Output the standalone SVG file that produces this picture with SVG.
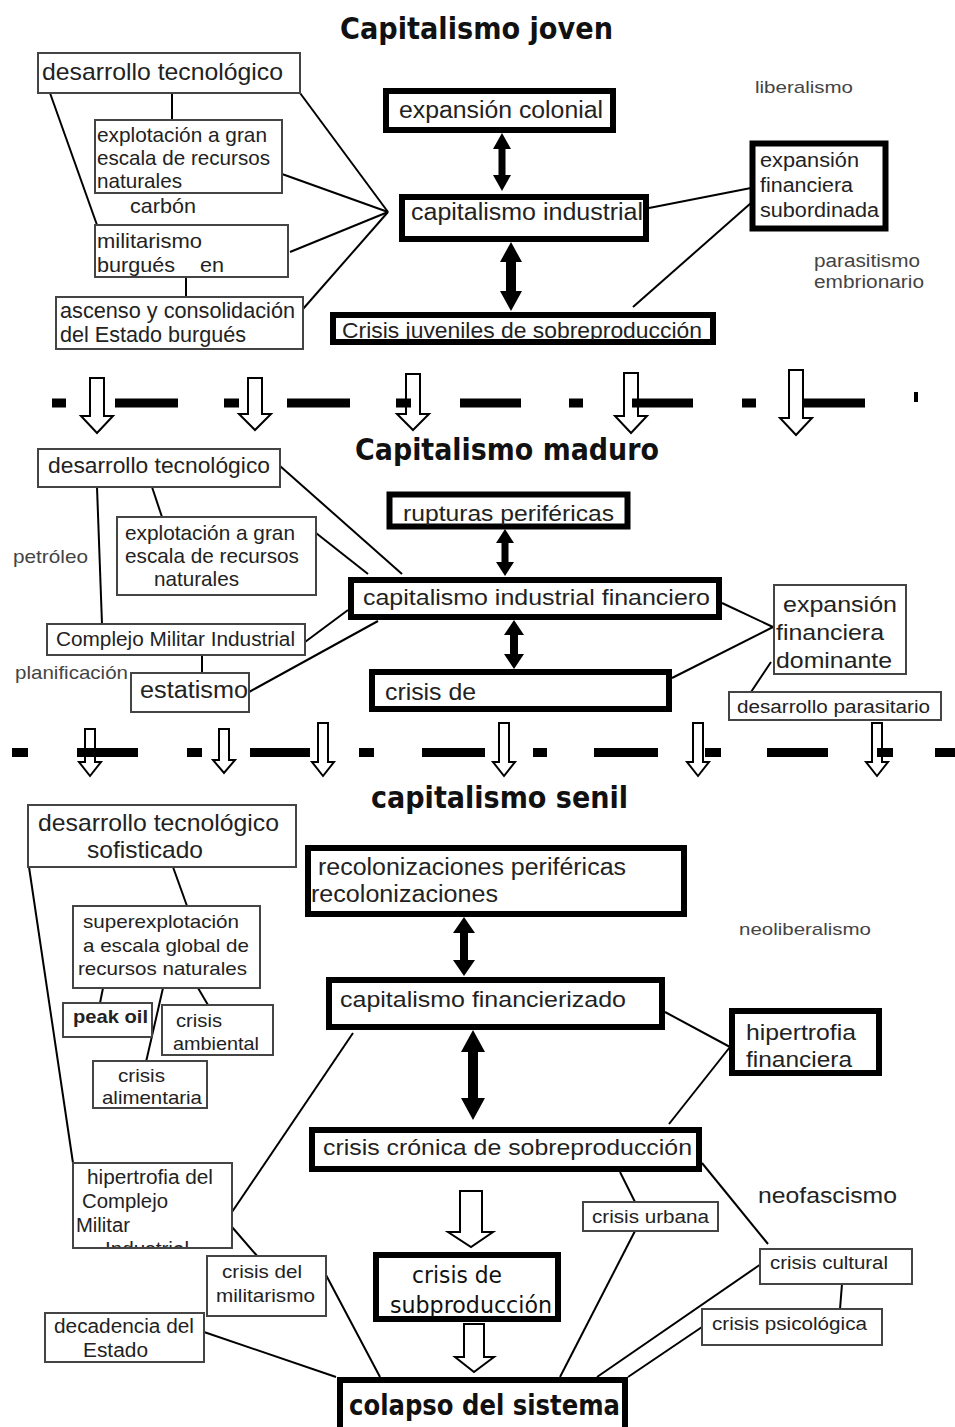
<svg xmlns="http://www.w3.org/2000/svg" width="955" height="1427" viewBox="0 0 955 1427">
<style>
.t{font-family:"Liberation Sans",Arial,sans-serif;fill:#222}
.s{font-family:"Liberation Sans",Arial,sans-serif;fill:#444}
.ttl{font-family:"DejaVu Sans",sans-serif;font-weight:bold;fill:#111}
.cm{font-family:"DejaVu Sans",sans-serif;font-weight:normal;fill:#111}
.thin{fill:#fff;stroke:#444;stroke-width:2}
.thick{fill:#fff;stroke:#000;stroke-width:6}
.ln{stroke:#000;stroke-width:2;fill:none}
.dash{fill:#000}
.ha{fill:#fff;stroke:#000;stroke-width:2}
.da{fill:#000}
</style>
<defs>
<clipPath id="cJuv"><rect x="330" y="300" width="386" height="40"/></clipPath>
<clipPath id="cRup"><rect x="387" y="490" width="243" height="35"/></clipPath>
<clipPath id="cSub"><rect x="373" y="1250" width="188" height="67"/></clipPath>
<clipPath id="cInd"><rect x="73" y="1160" width="159" height="87"/></clipPath>
</defs>
<rect width="955" height="1427" fill="#fff"/>

<g id="titles">
<text class="ttl" x="340" y="39" font-size="30" textLength="273" lengthAdjust="spacingAndGlyphs">Capitalismo joven</text>
<text class="ttl" x="355" y="460" font-size="30" textLength="304" lengthAdjust="spacingAndGlyphs">Capitalismo maduro</text>
<text class="ttl" x="371" y="808" font-size="30" textLength="257" lengthAdjust="spacingAndGlyphs">capitalismo senil</text>
</g>

<g id="connectors">
<line class="ln" x1="50" y1="93" x2="97" y2="225"/>
<line class="ln" x1="172" y1="93" x2="172" y2="120" stroke-width="3"/>
<line class="ln" x1="186" y1="277" x2="186" y2="297" stroke-width="3"/>
<line class="ln" x1="300" y1="93" x2="388" y2="212"/>
<line class="ln" x1="282" y1="174" x2="388" y2="212"/>
<line class="ln" x1="290" y1="252" x2="388" y2="212"/>
<line class="ln" x1="303" y1="309" x2="388" y2="212"/>
<line class="ln" x1="649" y1="208" x2="751" y2="188"/>
<line class="ln" x1="633" y1="307" x2="751" y2="203"/>

<line class="ln" x1="97" y1="487" x2="102" y2="624"/>
<line class="ln" x1="152" y1="487" x2="162" y2="517"/>
<line class="ln" x1="280" y1="466" x2="402" y2="574"/>
<line class="ln" x1="316" y1="533" x2="368" y2="574"/>
<line class="ln" x1="305" y1="642" x2="348" y2="610"/>
<line class="ln" x1="202" y1="655" x2="202" y2="673" stroke-width="3"/>
<line class="ln" x1="249" y1="692" x2="378" y2="621"/>
<line class="ln" x1="722" y1="603" x2="773" y2="627"/>
<line class="ln" x1="672" y1="678" x2="773" y2="627"/>
<line class="ln" x1="771" y1="662" x2="751" y2="692"/>

<line class="ln" x1="173" y1="867" x2="187" y2="906"/>
<line class="ln" x1="103" y1="988" x2="100" y2="1003"/>
<line class="ln" x1="198" y1="988" x2="208" y2="1005"/>
<line class="ln" x1="163" y1="988" x2="146" y2="1062"/>
<line class="ln" x1="29" y1="867" x2="73" y2="1163"/>
<line class="ln" x1="665" y1="1012" x2="730" y2="1047"/>
<line class="ln" x1="730" y1="1047" x2="669" y2="1124"/>
<line class="ln" x1="353" y1="1033" x2="232" y2="1212"/>
<line class="ln" x1="232" y1="1227" x2="258" y2="1257"/>
<line class="ln" x1="326" y1="1275" x2="380" y2="1377"/>
<line class="ln" x1="204" y1="1332" x2="336" y2="1377"/>
<line class="ln" x1="620" y1="1172" x2="635" y2="1202"/>
<line class="ln" x1="635" y1="1231" x2="560" y2="1377"/>
<line class="ln" x1="702" y1="1163" x2="768" y2="1244"/>
<line class="ln" x1="761" y1="1264" x2="597" y2="1377"/>
<line class="ln" x1="842" y1="1284" x2="840" y2="1309" stroke-width="3"/>
<line class="ln" x1="702" y1="1327" x2="628" y2="1377"/>

<polygon class="da" points="502,133 511,149 505.5,149 505.5,175 511,175 502,191 493,175 498.5,175 498.5,149 493,149"/>
<polygon class="da" points="511,242 522,262 516,262 516,291 522,291 511,311 500,291 506,291 506,262 500,262"/>
<polygon class="da" points="505,529 514,543 508.5,543 508.5,562 514,562 505,576 496,562 501.5,562 501.5,543 496,543"/>
<polygon class="da" points="514,620 524,635 518,635 518,654 524,654 514,669 504,654 510,654 510,635 504,635"/>
<polygon class="da" points="464,917 475,933 468,933 468,960 475,960 464,976 453,960 460,960 460,933 453,933"/>
<polygon class="da" points="473,1030 485,1052 478,1052 478,1098 485,1098 473,1120 461,1098 468,1098 468,1052 461,1052"/>

<polygon class="ha" points="460,1191 482,1191 482,1232 493,1232 471,1247 448,1232 460,1232"/>
<polygon class="ha" stroke-width="5" points="464,1324 484,1324 484,1357 494,1357 474,1372 455,1357 464,1357"/>
</g>

<g id="separators">
<polygon class="ha" points="90,378 104,378 104,416 113,416 97,433 81,416 90,416"/>
<polygon class="ha" points="248,378 262,378 262,414 271,414 255,430 239,414 248,414"/>
<polygon class="ha" points="406,374 420,374 420,414 429,414 413,430 397,414 406,414"/>
<polygon class="ha" points="624,373 638,373 638,416 647,416 631,433 615,416 624,416"/>
<polygon class="ha" points="789,370 803,370 803,418 812,418 796,435 780,418 789,418"/>
<rect class="dash" x="52" y="398.5" width="14" height="9"/>
<rect class="dash" x="115" y="398.5" width="63" height="9"/>
<rect class="dash" x="224" y="398.5" width="15" height="9"/>
<rect class="dash" x="287" y="398.5" width="63" height="9"/>
<rect class="dash" x="396" y="398.5" width="15" height="9"/>
<rect class="dash" x="460" y="398.5" width="61" height="9"/>
<rect class="dash" x="569" y="398.5" width="14" height="9"/>
<rect class="dash" x="632" y="398.5" width="61" height="9"/>
<rect class="dash" x="742" y="398.5" width="14" height="9"/>
<rect class="dash" x="804" y="398.5" width="61" height="9"/>
<rect class="dash" x="914" y="392" width="4" height="10"/>

<polygon class="ha" points="85,729 95,729 95,762 101,762 90,776 79,762 85,762"/>
<polygon class="ha" points="219,729 229,729 229,760 235,760 224,773 213,760 219,760"/>
<polygon class="ha" points="318,723 328,723 328,762 334,762 323,776 312,762 318,762"/>
<polygon class="ha" points="499,723 509,723 509,762 515,762 504,776 493,762 499,762"/>
<polygon class="ha" points="693,723 703,723 703,762 709,762 698,776 687,762 693,762"/>
<polygon class="ha" points="872,723 882,723 882,762 888,762 877,776 866,762 872,762"/>
<rect class="dash" x="12" y="748" width="16" height="9"/>
<rect class="dash" x="77" y="748" width="61" height="9"/>
<rect class="dash" x="187" y="748" width="15" height="9"/>
<rect class="dash" x="250" y="748" width="60" height="9"/>
<rect class="dash" x="359" y="748" width="15" height="9"/>
<rect class="dash" x="422" y="748" width="63" height="9"/>
<rect class="dash" x="533" y="748" width="14" height="9"/>
<rect class="dash" x="594" y="748" width="64" height="9"/>
<rect class="dash" x="705" y="748" width="16" height="9"/>
<rect class="dash" x="767" y="748" width="61" height="9"/>
<rect class="dash" x="877" y="748" width="16" height="9"/>
<rect class="dash" x="935" y="748" width="20" height="9"/>
</g>

<!-- Capitalismo joven -->
<g id="n-desarrollo1">
<rect class="thin" x="38" y="53" width="262" height="40"/>
<text class="t" x="42" y="80" font-size="24" textLength="241" lengthAdjust="spacingAndGlyphs">desarrollo tecnológico</text>
</g>
<g id="n-explotacion1">
<rect class="thin" x="95" y="120" width="187" height="73"/>
<text class="t" x="97" y="142" font-size="21" textLength="170" lengthAdjust="spacingAndGlyphs">explotación a gran</text>
<text class="t" x="97" y="165" font-size="21" textLength="173" lengthAdjust="spacingAndGlyphs">escala de recursos</text>
<text class="t" x="97" y="188" font-size="21" textLength="85" lengthAdjust="spacingAndGlyphs">naturales</text>
</g>
<g id="t-carbon">
<text class="t" x="130" y="213" font-size="21" textLength="66" lengthAdjust="spacingAndGlyphs">carbón</text>
</g>
<g id="n-militarismo1">
<rect class="thin" x="95" y="225" width="193" height="52"/>
<text class="t" x="97" y="248" font-size="21" textLength="105" lengthAdjust="spacingAndGlyphs">militarismo</text>
<text class="t" x="97" y="272" font-size="21" textLength="78" lengthAdjust="spacingAndGlyphs">burgués</text>
<text class="t" x="200" y="272" font-size="21" textLength="24" lengthAdjust="spacingAndGlyphs">en</text>
</g>
<g id="n-ascenso">
<rect class="thin" x="56" y="297" width="247" height="52"/>
<text class="t" x="60" y="318" font-size="22" textLength="235" lengthAdjust="spacingAndGlyphs">ascenso y consolidación</text>
<text class="t" x="60" y="342" font-size="22" textLength="186" lengthAdjust="spacingAndGlyphs">del Estado burgués</text>
</g>
<g id="n-expcolonial">
<rect class="thick" x="386" y="91" width="227" height="39"/>
<text class="t" x="399" y="118" font-size="23" textLength="204" lengthAdjust="spacingAndGlyphs">expansión colonial</text>
</g>
<g id="n-capindustrial">
<rect class="thick" x="402" y="197" width="244" height="42"/>
<text class="t" x="411" y="220" font-size="23" textLength="232" lengthAdjust="spacingAndGlyphs">capitalismo industrial</text>
</g>
<g id="n-crisisjuv">
<rect class="thick" x="333" y="315" width="380" height="27"/>
<text class="t" x="342" y="338" font-size="22" textLength="360" lengthAdjust="spacingAndGlyphs" clip-path="url(#cJuv)">Crisis juveniles de sobreproducción</text>
</g>
<g id="n-expfinsub">
<rect class="thick" x="752.5" y="143.5" width="133" height="85" stroke-width="3"/>
<text class="t" x="760" y="167" font-size="20" textLength="99" lengthAdjust="spacingAndGlyphs">expansión</text>
<text class="t" x="760" y="192" font-size="20" textLength="93" lengthAdjust="spacingAndGlyphs">financiera</text>
<text class="t" x="760" y="217" font-size="20" textLength="119" lengthAdjust="spacingAndGlyphs">subordinada</text>
</g>
<g id="t-liberalismo">
<text class="s" x="755" y="93" font-size="17" textLength="98" lengthAdjust="spacingAndGlyphs">liberalismo</text>
</g>
<g id="t-parasitismo">
<text class="s" x="814" y="267" font-size="18" textLength="106" lengthAdjust="spacingAndGlyphs">parasitismo</text>
<text class="s" x="814" y="288" font-size="18" textLength="110" lengthAdjust="spacingAndGlyphs">embrionario</text>
</g>

<!-- Capitalismo maduro -->
<g id="n-desarrollo2">
<rect class="thin" x="38" y="449" width="242" height="38"/>
<text class="t" x="48" y="473" font-size="22" textLength="222" lengthAdjust="spacingAndGlyphs">desarrollo tecnológico</text>
</g>
<g id="n-explotacion2">
<rect class="thin" x="117" y="517" width="199" height="78"/>
<text class="t" x="125" y="540" font-size="21" textLength="170" lengthAdjust="spacingAndGlyphs">explotación a gran</text>
<text class="t" x="125" y="563" font-size="21" textLength="174" lengthAdjust="spacingAndGlyphs">escala de recursos</text>
<text class="t" x="154" y="586" font-size="21" textLength="85" lengthAdjust="spacingAndGlyphs">naturales</text>
</g>
<g id="t-petroleo">
<text class="s" x="13" y="563" font-size="19" textLength="75" lengthAdjust="spacingAndGlyphs">petróleo</text>
</g>
<g id="n-complejo">
<rect class="thin" x="47" y="624" width="258" height="31"/>
<text class="t" x="56" y="646" font-size="20" textLength="239" lengthAdjust="spacingAndGlyphs">Complejo Militar Industrial</text>
</g>
<g id="t-planificacion">
<text class="s" x="15" y="679" font-size="19" textLength="113" lengthAdjust="spacingAndGlyphs">planificación</text>
</g>
<g id="n-estatismo">
<rect class="thin" x="131" y="673" width="118" height="39"/>
<text class="t" x="140" y="698" font-size="23" textLength="108" lengthAdjust="spacingAndGlyphs">estatismo</text>
</g>
<g id="n-rupturas">
<rect class="thick" x="389.5" y="494.5" width="238" height="32" stroke-width="5"/>
<text class="t" x="403" y="521" font-size="22" textLength="211" lengthAdjust="spacingAndGlyphs" clip-path="url(#cRup)">rupturas periféricas</text>
</g>
<g id="n-cif">
<rect class="thick" x="351" y="580" width="368" height="37"/>
<text class="t" x="363" y="605" font-size="22" textLength="347" lengthAdjust="spacingAndGlyphs">capitalismo industrial financiero</text>
</g>
<g id="n-crisisde">
<rect class="thick" x="372" y="672" width="297" height="37"/>
<text class="t" x="385" y="700" font-size="24" textLength="91" lengthAdjust="spacingAndGlyphs">crisis de</text>
</g>
<g id="n-expfindom">
<rect class="thin" x="774" y="585" width="132" height="89"/>
<text class="t" x="783" y="612" font-size="22" textLength="114" lengthAdjust="spacingAndGlyphs">expansión</text>
<text class="t" x="776" y="640" font-size="22" textLength="108" lengthAdjust="spacingAndGlyphs">financiera</text>
<text class="t" x="776" y="668" font-size="22" textLength="116" lengthAdjust="spacingAndGlyphs">dominante</text>
</g>
<g id="n-desparasitario">
<rect class="thin" x="729" y="692" width="212" height="28"/>
<text class="t" x="737" y="713" font-size="18" textLength="193" lengthAdjust="spacingAndGlyphs">desarrollo parasitario</text>
</g>

<!-- capitalismo senil -->
<g id="n-desarrollo3">
<rect class="thin" x="28" y="805" width="268" height="62"/>
<text class="t" x="38" y="831" font-size="24" textLength="241" lengthAdjust="spacingAndGlyphs">desarrollo tecnológico</text>
<text class="t" x="87" y="858" font-size="24" textLength="116" lengthAdjust="spacingAndGlyphs">sofisticado</text>
</g>
<g id="n-superexp">
<rect class="thin" x="73" y="906" width="187" height="82"/>
<text class="t" x="83" y="928" font-size="19" textLength="156" lengthAdjust="spacingAndGlyphs">superexplotación</text>
<text class="t" x="83" y="952" font-size="19" textLength="166" lengthAdjust="spacingAndGlyphs">a escala global de</text>
<text class="t" x="78" y="975" font-size="19" textLength="169" lengthAdjust="spacingAndGlyphs">recursos naturales</text>
</g>
<g id="n-peakoil">
<rect class="thin" x="63" y="1003" width="89" height="34"/>
<text class="t" x="73" y="1023" font-size="19" font-weight="bold" textLength="75" lengthAdjust="spacingAndGlyphs">peak oil</text>
</g>
<g id="n-ambiental">
<rect class="thin" x="162" y="1005" width="111" height="50"/>
<text class="t" x="176" y="1027" font-size="19" textLength="46" lengthAdjust="spacingAndGlyphs">crisis</text>
<text class="t" x="173" y="1050" font-size="19" textLength="86" lengthAdjust="spacingAndGlyphs">ambiental</text>
</g>
<g id="n-alimentaria">
<rect class="thin" x="93" y="1061" width="114" height="47"/>
<text class="t" x="118" y="1082" font-size="19" textLength="47" lengthAdjust="spacingAndGlyphs">crisis</text>
<text class="t" x="102" y="1104" font-size="19" textLength="100" lengthAdjust="spacingAndGlyphs">alimentaria</text>
</g>
<g id="n-recolon">
<rect class="thick" x="308" y="848" width="376" height="66"/>
<text class="t" x="318" y="875" font-size="23" textLength="308" lengthAdjust="spacingAndGlyphs">recolonizaciones periféricas</text>
<text class="t" x="311" y="902" font-size="23" textLength="187" lengthAdjust="spacingAndGlyphs">recolonizaciones</text>
</g>
<g id="t-neoliberalismo">
<text class="s" x="739" y="935" font-size="17" textLength="132" lengthAdjust="spacingAndGlyphs">neoliberalismo</text>
</g>
<g id="n-capfin">
<rect class="thick" x="329" y="980" width="333" height="47"/>
<text class="t" x="340" y="1007" font-size="22" textLength="286" lengthAdjust="spacingAndGlyphs">capitalismo financierizado</text>
</g>
<g id="n-hipfin">
<rect class="thick" x="732" y="1011" width="147" height="62" stroke-width="4"/>
<text class="t" x="746" y="1040" font-size="22" textLength="110" lengthAdjust="spacingAndGlyphs">hipertrofia</text>
<text class="t" x="746" y="1067" font-size="22" textLength="106" lengthAdjust="spacingAndGlyphs">financiera</text>
</g>
<g id="n-cronica">
<rect class="thick" x="312" y="1130" width="387" height="39"/>
<text class="t" x="323" y="1155" font-size="22" textLength="369" lengthAdjust="spacingAndGlyphs">crisis crónica de sobreproducción</text>
</g>
<g id="n-hipcomplejo">
<rect class="thin" x="73" y="1163" width="159" height="85"/>
<text class="t" x="87" y="1184" font-size="20" textLength="126" lengthAdjust="spacingAndGlyphs">hipertrofia del</text>
<text class="t" x="82" y="1208" font-size="20" textLength="86" lengthAdjust="spacingAndGlyphs">Complejo</text>
<text class="t" x="76" y="1232" font-size="20" textLength="54" lengthAdjust="spacingAndGlyphs">Militar</text>
<text class="t" x="105" y="1256" font-size="20" textLength="84" lengthAdjust="spacingAndGlyphs" clip-path="url(#cInd)">Industrial</text>
</g>
<g id="n-crisismil">
<rect class="thin" x="207" y="1256" width="119" height="60"/>
<text class="t" x="222" y="1278" font-size="19" textLength="80" lengthAdjust="spacingAndGlyphs">crisis del</text>
<text class="t" x="216" y="1302" font-size="19" textLength="99" lengthAdjust="spacingAndGlyphs">militarismo</text>
</g>
<g id="n-decadencia">
<rect class="thin" x="45" y="1313" width="159" height="49"/>
<text class="t" x="54" y="1333" font-size="20" textLength="140" lengthAdjust="spacingAndGlyphs">decadencia del</text>
<text class="t" x="83" y="1357" font-size="20" textLength="65" lengthAdjust="spacingAndGlyphs">Estado</text>
</g>
<g id="n-subprod">
<rect class="thick" x="376" y="1255" width="182" height="64"/>
<text class="cm" x="412" y="1283" font-size="23" textLength="90" lengthAdjust="spacingAndGlyphs">crisis de</text>
<text class="cm" x="390" y="1313" font-size="23" textLength="162" lengthAdjust="spacingAndGlyphs" clip-path="url(#cSub)">subproducción</text>
</g>
<g id="n-colapso">
<rect class="thick" x="340" y="1380" width="285" height="60"/>
<text class="ttl" x="349" y="1415" font-size="28" textLength="271" lengthAdjust="spacingAndGlyphs">colapso del sistema</text>
</g>
<g id="n-urbana">
<rect class="thin" x="583" y="1202" width="135" height="29"/>
<text class="t" x="592" y="1223" font-size="18" textLength="117" lengthAdjust="spacingAndGlyphs">crisis urbana</text>
</g>
<g id="t-neofascismo">
<text class="t" x="758" y="1203" font-size="22" textLength="139" lengthAdjust="spacingAndGlyphs">neofascismo</text>
</g>
<g id="n-cultural">
<rect class="thin" x="760" y="1249" width="152" height="35"/>
<text class="t" x="770" y="1269" font-size="18" textLength="118" lengthAdjust="spacingAndGlyphs">crisis cultural</text>
</g>
<g id="n-psico">
<rect class="thin" x="702" y="1309" width="180" height="36"/>
<text class="t" x="712" y="1330" font-size="18" textLength="155" lengthAdjust="spacingAndGlyphs">crisis psicológica</text>
</g>
</svg>
